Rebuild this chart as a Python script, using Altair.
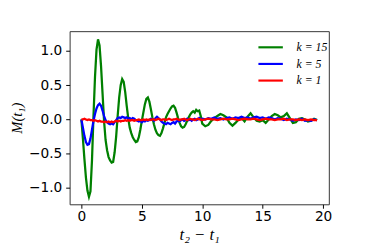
import altair as alt
import pandas as pd

# sample times: fine grid up to 10, coarser afterwards
t_fine = [i * 0.125 for i in range(81)]
t_coarse = [10.25 + i * 0.25 for i in range(38)]
t = t_fine + t_coarse

green = [
    0.0, -0.28, -0.58, -0.85, -1.04, -1.13, -1.05, -0.6,
    0.05, 0.62, 1.02, 1.17, 1.08, 0.78, 0.38, -0.02,
    -0.3, -0.45, -0.55, -0.6, -0.63, -0.62, -0.48, -0.25,
    0.05, 0.32, 0.5, 0.59, 0.55, 0.4, 0.2, 0.02,
    -0.12, -0.2, -0.26, -0.3, -0.33, -0.32, -0.26, -0.15,
    -0.02, 0.1, 0.22, 0.3, 0.32, 0.26, 0.15, 0.03,
    -0.07, -0.15, -0.2, -0.23, -0.24, -0.2, -0.13, -0.05,
    0.03, 0.08, 0.12, 0.16, 0.19, 0.2, 0.17, 0.1,
    0.02, -0.05, -0.1, -0.12, -0.11, -0.07, -0.02, 0.03,
    0.07, 0.1, 0.12, 0.1, 0.14, 0.12, 0.13, 0.05,
    -0.06,
    -0.1, -0.08, -0.02, 0.02, 0.05, 0.08, 0.06, 0.03,
    -0.05, -0.09, -0.05, 0.0, 0.02, -0.03, 0.04, 0.09,
    0.03, -0.02, -0.03, -0.01, -0.05, 0.0, 0.05, 0.08,
    0.06, 0.03, 0.05, 0.09, 0.02, -0.05, -0.04, 0.01,
    0.02, 0.0, -0.03, -0.02, 0.01, -0.01,
]

blue = [
    0.0, -0.12, -0.24, -0.33, -0.37, -0.36, -0.28, -0.15,
    -0.02, 0.08, 0.16, 0.21, 0.23, 0.2, 0.13, 0.05,
    -0.01, -0.04, -0.06, -0.07, -0.06, -0.07, -0.04, -0.01,
    0.02, 0.03, 0.02, 0.04, 0.03, 0.02, 0.03, 0.01,
    0.02, 0.0, 0.02, 0.01, -0.01, -0.02, -0.03, -0.02,
    -0.04, -0.02, -0.03, -0.01, -0.02, -0.01, 0.01, 0.0,
    -0.02, 0.02, 0.04, 0.02, 0.0, -0.03, -0.05, -0.06,
    -0.07, -0.05, -0.06, -0.07, -0.05, -0.04, -0.06, -0.03,
    -0.02, -0.03, -0.01, 0.0, -0.02, -0.01, 0.01, -0.01,
    0.0, -0.02, 0.0, 0.01, -0.01, 0.0, 0.02, 0.0,
    0.01,
    0.0, 0.02, 0.01, 0.03, 0.01, 0.02, 0.0, 0.02,
    0.03, 0.01, 0.03, 0.02, 0.04, 0.02, 0.03, 0.01,
    0.03, 0.04, 0.02, 0.03, 0.01, 0.03, 0.02, 0.0,
    0.02, 0.01, -0.01, 0.01, 0.0, -0.02, 0.0, -0.01,
    0.01, -0.02, -0.01, -0.02, 0.0, -0.01,
]

red = [
    0.0, 0.0, 0.01, 0.0, -0.01, 0.0, -0.01, -0.01,
    -0.02, -0.01, -0.02, -0.03, -0.02, -0.03, -0.03, -0.04,
    -0.03, -0.04, -0.03, -0.04, -0.03, -0.04, -0.03, -0.02,
    -0.03, -0.02, -0.03, -0.02, -0.02, -0.01, -0.02, -0.01,
    -0.02, -0.01, -0.01, -0.02, -0.01, -0.01, 0.0, -0.01,
    -0.01, 0.0, -0.01, 0.0, -0.01, 0.0, -0.01, 0.0,
    0.0, -0.01, 0.0, 0.01, 0.0, -0.01, 0.0, 0.0,
    -0.01, 0.0, 0.01, 0.0, -0.01, 0.0, 0.0, 0.01,
    0.0, -0.01, 0.0, 0.0, 0.01, 0.0, -0.01, 0.0,
    0.01, 0.0, 0.0, -0.01, 0.0, 0.01, 0.0, 0.0,
    -0.01,
    0.0, 0.01, 0.0, 0.0, -0.01, 0.0, 0.01, 0.0,
    0.0, 0.01, 0.0, -0.01, 0.0, 0.01, 0.0, 0.0,
    0.01, 0.0, -0.01, 0.0, 0.01, 0.0, 0.0, -0.01,
    0.0, 0.0, 0.01, -0.01, 0.0, 0.0, -0.01, 0.0,
    -0.01, 0.0, -0.01, 0.0, -0.01, -0.01,
]

labels = ["k = 15", "k = 5", "k = 1"]
colors = ["#008000", "#0000ff", "#ff0000"]
series = [green, blue, red]

rows = []
for lab, vals in zip(labels, series):
    for tt, v in zip(t, vals):
        rows.append({"t": tt, "M": v, "k": lab})
df = pd.DataFrame(rows)

x_enc = alt.X("t:Q",
              scale=alt.Scale(domain=[-0.975, 20.475], nice=False, zero=False),
              axis=alt.Axis(values=[0, 5, 10, 15, 20], title="t₂ − t₁",
                            format="d"))
y_enc = alt.Y("M:Q",
              scale=alt.Scale(domain=[-1.24, 1.29], nice=False, zero=False),
              axis=alt.Axis(values=[-1.0, -0.5, 0.0, 0.5, 1.0], format=".1f",
                            title="M(t₁)"))
c_enc = alt.Color("k:N",
                  scale=alt.Scale(domain=labels, range=colors),
                  legend=alt.Legend(title=None, orient="none", legendX=198,
                                    legendY=9, symbolType="M-2,0H2",
                                    symbolSize=156, symbolStrokeWidth=2.2,
                                    labelFont="Liberation Serif",
                                    labelFontStyle="italic",
                                    labelFontSize=12, labelOffset=19,
                                    rowPadding=3, padding=0))

layers = []
for lab in labels:
    layers.append(
        alt.Chart(df).transform_filter(alt.datum.k == lab)
        .mark_line(strokeWidth=2.3, clip=True)
        .encode(x=x_enc, y=y_enc, color=c_enc)
    )

chart = alt.layer(*layers).properties(
    width=265, height=177,
    autosize=alt.AutoSizeParams(type="none"),
    padding={"left": 63, "top": 21, "right": 38, "bottom": 43},
).configure_view(
    stroke="#333333", strokeWidth=1
).configure_axis(
    domain=False, grid=False, ticks=True, tickSize=4, tickColor="#000000",
    labelFont="DejaVu Sans", labelFontSize=14, labelColor="#000000",
    labelPadding=2,
    titleFont="Liberation Serif", titleFontStyle="italic",
    titleFontWeight="normal", titleColor="#000000",
).configure_axisX(
    titleFontSize=17, titlePadding=3, labelFlush=False
).configure_axisY(
    titleFontSize=15, titlePadding=4, labelPadding=4
)

chart.save("out.html", embed_options={"renderer": "svg", "actions": False})
